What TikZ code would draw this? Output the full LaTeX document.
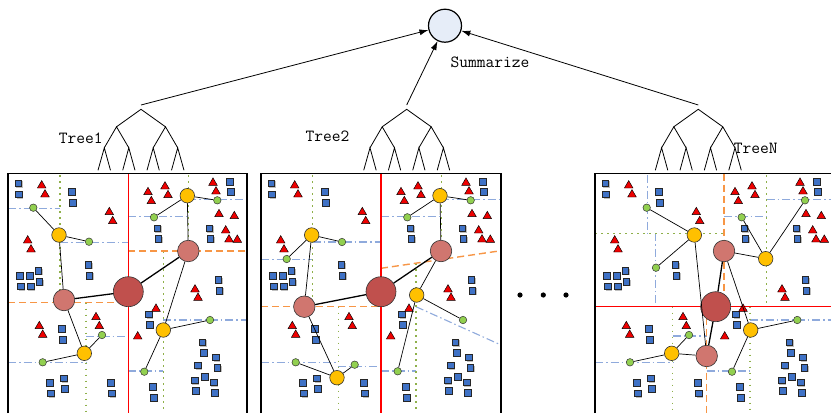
\documentclass[tikz,border=0pt]{standalone}
\usetikzlibrary{arrows.meta}
\definecolor{sqblue}{HTML}{3F72C6}
\definecolor{trired}{HTML}{EE0000}
\definecolor{bigred}{HTML}{C0504D}
\definecolor{pinkn}{HTML}{D0766F}
\definecolor{yelln}{HTML}{FFC000}
\definecolor{greenn}{HTML}{92D050}
\definecolor{orangel}{HTML}{F79646}
\definecolor{olivel}{HTML}{8FB04A}
\definecolor{bluel}{HTML}{8FAADC}
\definecolor{sumfill}{HTML}{E6EDF8}
\tikzset{
  panelborder/.style={line width=1.6pt, black},
  redline/.style={line width=1.3pt, red},
  orangeline/.style={line width=1.4pt, orangel, dash pattern=on 7pt off 4pt},
  oliveline/.style={line width=1.5pt, olivel, dash pattern=on 1.5pt off 4.5pt},
  blueline/.style={line width=1.1pt, bluel, dash pattern=on 8pt off 3pt on 1.5pt off 3pt},
  sqs/.style={fill=sqblue, draw=black!85, line width=0.45pt},
  sqshadow/.style={fill=black!25},
  tris/.style={fill=trired, draw=black, line width=0.45pt, line join=miter},
  bignode/.style={circle, inner sep=0pt, minimum size=30pt, fill=bigred, draw=black!80, line width=0.6pt},
  pinknode/.style={circle, inner sep=0pt, minimum size=21.5pt, fill=pinkn, draw=black!80, line width=0.6pt},
  ynode/.style={circle, inner sep=0pt, minimum size=14.5pt, fill=yelln, draw=black!80, line width=0.6pt},
  gnode/.style={circle, inner sep=0pt, minimum size=7.5pt, fill=greenn, draw=black!80, line width=0.5pt},
  thickedge/.style={line width=1.3pt, black},
  thinedge/.style={line width=0.7pt, black},
  treeline/.style={line width=0.8pt, black},
  lbl/.style={inner sep=0pt, font=\fontsize{17}{17}\selectfont\ttfamily},
  arr/.style={line width=0.8pt, -{Latex[length=9pt,width=6pt]}},
  sumnode/.style={circle, inner sep=0pt, minimum size=33pt, fill=sumfill, draw=black, line width=1.2pt},
  bintree/.pic={
    \draw[treeline] (-43,61) -- (-36.7,38.5) -- (-30.5,61);
    \draw[treeline] (-18.3,61) -- (-12.2,38.5) -- (-6,61);
    \draw[treeline] (6,61) -- (12.2,38.5) -- (18.3,61);
    \draw[treeline] (30.5,61) -- (36.7,38.5) -- (43,61);
    \draw[treeline] (-36.7,38.5) -- (-24.5,17.5) -- (-12.2,38.5);
    \draw[treeline] (12.2,38.5) -- (24.5,17.5) -- (36.7,38.5);
    \draw[treeline] (-24.5,17.5) -- (0,0) -- (24.5,17.5);
  }
}
\newcommand\mysqlist{18.3/183.3,19/194.3,71.7/192,73/203,88.3/265,89.3/275.7,20/275.7,29.7/275.7,38.3/271,21/286.3,30.7/286.3,39.3/282,61.7/329,62.7/340,50/382.7,51/393.3,64/378.3,65/389,111/382.7,112/393.3,230/181.7,230.7/192,157.3/228.3,158.3/239,209.3/228.3,210.3/239,218.3/280,219.3/290.7,149/314.3,150/325,202.3/342.3,204/352.7,216/357.3,217.3/368,198/365.3,194.7/380.3,204.7/377,213.7/382.3,196/391,214.7/393,153/387,154/397.7}
\newcommand\mytrilist{41.7/185,45/194,109.3/211.7,112.7/220.7,27.7/240,31/249,39.3/325.7,42.7/334.3,96/316.7,99.3/325.7,137.7/336,156/308.3,195/289,198/297.3,165/186,168/194.7,148/191.7,151.3/200.7,213/182.3,216/191,219/213.7,234.3/215.7,225.7/230,229/239,237.3/239.3}
\newcommand\mydataset{%
  \foreach \px/\py in \mysqlist {
    \fill[sqshadow] (\px-2.4,\py-2.4) rectangle ++(6.8,6.8);
    \filldraw[sqs] (\px-3.4,\py-3.4) rectangle ++(6.8,6.8);
  }
  \foreach \px/\py in \mytrilist {
    \filldraw[tris] (\px,\py-4.4) -- (\px+4.3,\py+3) -- (\px-4.3,\py+3) -- cycle;
  }
}
\begin{document}
\begin{tikzpicture}[x=1pt, y=-1pt]
\useasboundingbox (0,0) rectangle (831,413);
\fill[white] (0,0) rectangle (831,413);

% ---------------- Summarize and trees
\node[sumnode] (sum) at (445,25.7) {};
\node[lbl] (sumlbl) at (490,62.3) {Summarize};
\pic at (141,109.3) {bintree};
\pic at (406.7,109.3) {bintree};
\pic at (698.3,109.3) {bintree};
\coordinate (t1) at (141,105);
\coordinate (t2) at (406.7,105);
\coordinate (t3) at (698.3,105);
\draw[arr] (t1) -- (sum);
\draw[arr] (t2) -- (sum);
\draw[arr] (t3) -- (sum);
\node[lbl] (tree1) at (80.8,138.5) {Tree1};
\node[lbl] (tree2) at (327.5,136.5) {Tree2};
\node[lbl] (treen) at (755.8,148) {TreeN};

% dots
\fill (520,295) circle (2.6);
\fill (543.3,295) circle (2.6);
\fill (566,295) circle (2.6);

% ---------------- Panel 1
\begin{scope}
  \draw[blueline] (8,208.3) -- (60,208.3);
  \draw[blueline] (60,242.3) -- (128.3,242.3);
  \draw[blueline] (8,362.3) -- (86,362.3);
  \draw[blueline] (86,336.7) -- (128.3,336.7);
  \draw[blueline] (128.3,216.7) -- (188.3,216.7);
  \draw[blueline] (188.3,199.3) -- (247,199.3);
  \draw[blueline] (128.3,371) -- (163.3,371);
  \draw[blueline] (163.3,320) -- (247,320);
  \draw[oliveline] (60,175) -- (60,302.7);
  \draw[oliveline] (86,302.7) -- (86,413);
  \draw[oliveline] (188.3,175) -- (188.3,251);
  \draw[oliveline] (163.3,251) -- (163.3,413);
  \draw[orangeline] (8,302.7) -- (128.3,302.7);
  \draw[orangeline] (128.3,251) -- (247,251);
  \draw[redline] (128.3,173.5) -- (128.3,413);
  \mydataset
  \node[bignode] (ac) at (128.3,291.7) {};
  \node[pinknode] (apa) at (64,300) {};
  \node[pinknode] (apb) at (188.3,251) {};
  \node[ynode] (aya) at (59,235) {};
  \node[ynode] (ayb) at (187.3,195.7) {};
  \node[ynode] (ayc) at (163.3,330) {};
  \node[ynode] (ayd) at (84.3,353.3) {};
  \node[gnode] (aga) at (33.3,207.7) {};
  \node[gnode] (agb) at (89,241.7) {};
  \node[gnode] (agc) at (154,217.3) {};
  \node[gnode] (agd) at (217.3,200.3) {};
  \node[gnode] (age) at (102,335) {};
  \node[gnode] (agf) at (42.7,362.3) {};
  \node[gnode] (agg) at (210,320) {};
  \node[gnode] (agh) at (144.3,371.7) {};
  \draw[thickedge] (ac) -- (apa);
  \draw[thickedge] (ac) -- (apb);
  \draw[thinedge] (apa) -- (aya);
  \draw[thinedge] (apa) -- (ayd);
  \draw[thinedge] (apb) -- (ayb);
  \draw[thinedge] (apb) -- (ayc);
  \draw[thinedge] (aya) -- (aga);
  \draw[thinedge] (aya) -- (agb);
  \draw[thinedge] (ayb) -- (agc);
  \draw[thinedge] (ayb) -- (agd);
  \draw[thinedge] (ayd) -- (age);
  \draw[thinedge] (ayd) -- (agf);
  \draw[thinedge] (ayc) -- (agg);
  \draw[thinedge] (ayc) -- (agh);
  \draw[panelborder] (8,413) -- (8,173.5) -- (247,173.5) -- (247,413);
\end{scope}

% ---------------- Panel 2
\begin{scope}[shift={(253,0)}]
  \draw[blueline] (8,259.3) -- (59.7,259.3);
  \draw[blueline] (59.7,242) -- (128,242);
  \draw[blueline] (8,362.3) -- (85.3,362.3);
  \draw[blueline] (85.3,366.7) -- (128,366.7);
  \draw[blueline] (128,216.7) -- (188.3,216.7);
  \draw[blueline] (188.3,199.3) -- (248,199.3);
  \draw[blueline] (128,371) -- (163,371);
  \draw[blueline] (163,306.7) -- (248,345);
  \draw[oliveline] (59.7,175) -- (59.7,306.7);
  \draw[oliveline] (85.3,306.7) -- (85.3,413);
  \draw[oliveline] (188.3,175) -- (188.3,259.5);
  \draw[oliveline] (163,263.2) -- (163,413);
  \draw[orangeline] (8,306.7) -- (128,306.7);
  \draw[orangeline] (128,268.3) -- (248,250.7);
  \draw[redline] (128,173.5) -- (128,413);
  \mydataset
  \node[bignode] (bc) at (128,291.7) {};
  \node[pinknode] (bpa) at (51.3,306.7) {};
  \node[pinknode] (bpb) at (188,251) {};
  \node[ynode] (bya) at (58.7,235) {};
  \node[ynode] (byb) at (187,195.7) {};
  \node[ynode] (byc) at (163.7,295) {};
  \node[ynode] (byd) at (84,377.7) {};
  \node[gnode] (bga) at (33.7,259) {};
  \node[gnode] (bgb) at (89,242) {};
  \node[gnode] (bgc) at (154.3,217.3) {};
  \node[gnode] (bgd) at (217.7,200.3) {};
  \node[gnode] (bge) at (101.7,364.7) {};
  \node[gnode] (bgf) at (42.7,362.3) {};
  \node[gnode] (bgg) at (210,320) {};
  \node[gnode] (bgh) at (144.7,371.3) {};
  \draw[thickedge] (bc) -- (bpa);
  \draw[thickedge] (bc) -- (bpb);
  \draw[thinedge] (bpa) -- (bya);
  \draw[thinedge] (bpa) -- (byd);
  \draw[thinedge] (bpb) -- (byb);
  \draw[thinedge] (bpb) -- (byc);
  \draw[thinedge] (bya) -- (bga);
  \draw[thinedge] (bya) -- (bgb);
  \draw[thinedge] (byb) -- (bgc);
  \draw[thinedge] (byb) -- (bgd);
  \draw[thinedge] (byd) -- (bge);
  \draw[thinedge] (byd) -- (bgf);
  \draw[thinedge] (byc) -- (bgg);
  \draw[thinedge] (byc) -- (bgh);
  \draw[panelborder] (8,413) -- (8,173.5) -- (248,173.5) -- (248,413);
\end{scope}

% ---------------- Panel 3
\begin{scope}[shift={(587,0)}]
  \clip (0,0) rectangle (244,413);
  \draw[blueline] (60.3,175) -- (60.3,233.3);
  \draw[blueline] (68.7,233.3) -- (68.7,306.7);
  \draw[blueline] (137,216.7) -- (179.7,216.7);
  \draw[blueline] (179.7,199.3) -- (248,199.3);
  \draw[blueline] (8,362.3) -- (85.7,362.3);
  \draw[blueline] (85.7,336) -- (119.7,336);
  \draw[blueline] (119.7,371) -- (163,371);
  \draw[blueline] (163,320) -- (248,320);
  \draw[oliveline] (8,233.3) -- (137,233.3);
  \draw[oliveline] (179.7,175) -- (179.7,306.7);
  \draw[oliveline] (85.7,306.7) -- (85.7,413);
  \draw[oliveline] (163,306.7) -- (163,413);
  \draw[orangeline] (137,173.5) -- (137,306.7);
  \draw[orangeline] (119.7,306.7) -- (119.7,413);
  \draw[redline] (8,306.7) -- (248,306.7);
  \mydataset
  \node[bignode] (cc) at (128.7,306.7) {};
  \node[pinknode] (cpa) at (137,251) {};
  \node[pinknode] (cpb) at (119.7,356) {};
  \node[ynode] (cya) at (107.3,235) {};
  \node[ynode] (cyb) at (178.7,258.7) {};
  \node[ynode] (cyc) at (163.7,330) {};
  \node[ynode] (cyd) at (84.7,353.3) {};
  \node[gnode] (cga) at (59.7,207.7) {};
  \node[gnode] (cgb) at (69,267.7) {};
  \node[gnode] (cgc) at (154.7,217.3) {};
  \node[gnode] (cgd) at (218,200.3) {};
  \node[gnode] (cge) at (102,335) {};
  \node[gnode] (cgf) at (43,362.3) {};
  \node[gnode] (cgg) at (210.3,320) {};
  \node[gnode] (cgh) at (145,371.7) {};
  \draw[thickedge] (cc) -- (cpa);
  \draw[thickedge] (cc) -- (cpb);
  \draw[thinedge] (cya) -- (cga);
  \draw[thinedge] (cya) -- (cgb);
  \draw[thinedge] (cya) -- (cpb);
  \draw[thinedge] (cpa) -- (cyb);
  \draw[thinedge] (cyb) -- (cgc);
  \draw[thinedge] (cyb) -- (cgd);
  \draw[thinedge] (cpa) -- (cyc);
  \draw[thinedge] (cyc) -- (cgg);
  \draw[thinedge] (cyc) -- (cgh);
  \draw[thinedge] (cpb) -- (cyd);
  \draw[thinedge] (cyd) -- (cge);
  \draw[thinedge] (cyd) -- (cgf);
  \draw[panelborder] (8,413) -- (8,173.5) -- (248,173.5);
\end{scope}
\end{tikzpicture}
\end{document}
